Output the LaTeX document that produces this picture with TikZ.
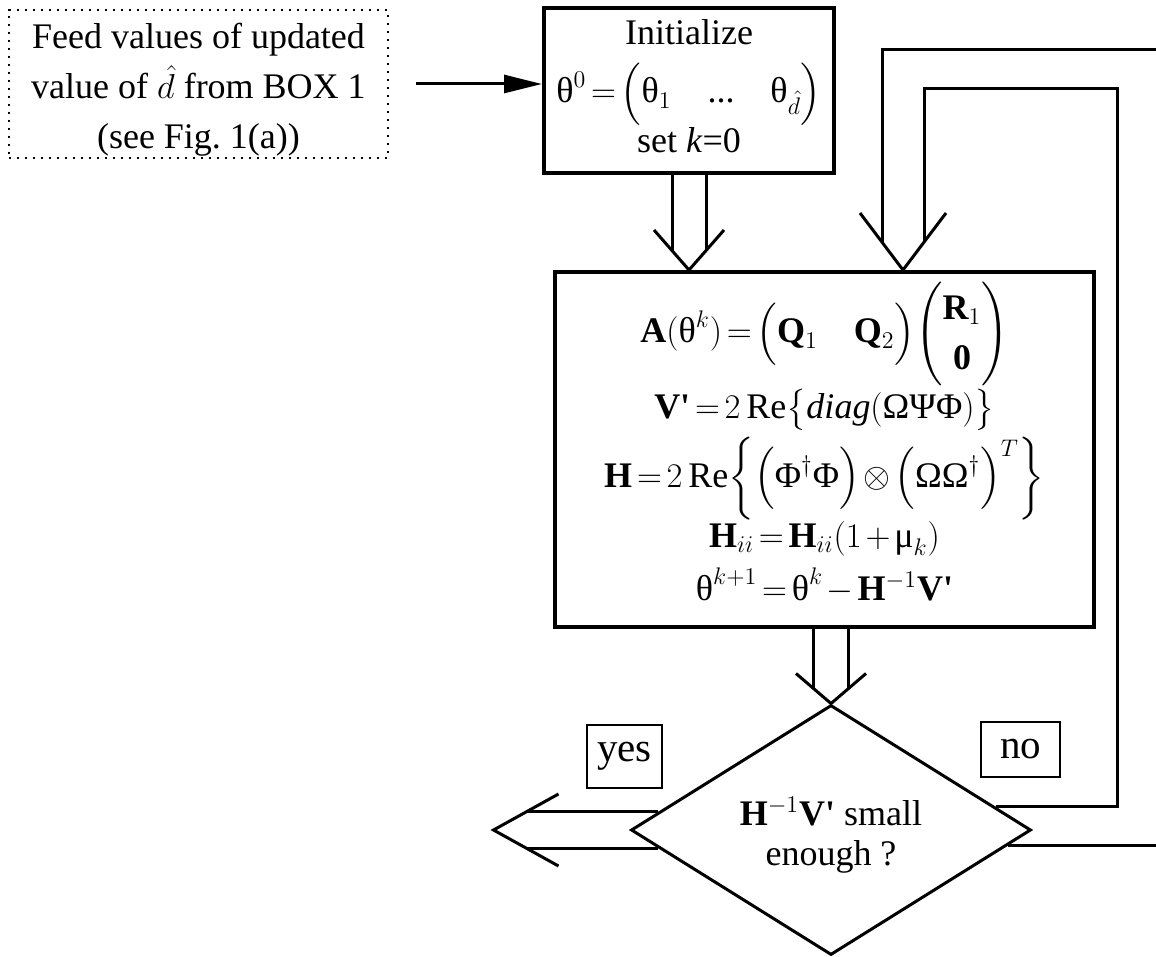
\documentclass[tikz,border=0pt]{standalone}
\usepackage{amsmath}
\usepackage{fontspec}
\setmainfont{Liberation Serif}
\usetikzlibrary{shapes.geometric,arrows.meta,calc}
\newcommand{\uth}{\text{θ}}
\newcommand{\umu}{\text{μ}}
\newcommand{\vpr}{\mathbf{V}\text{\textbf{\textquotesingle}}}
\newcommand{\tightmu}{\thickmuskip=2.5mu\relax\medmuskip=2mu\relax}

\begin{document}
\begin{tikzpicture}[x=0.5pt, y=-0.5pt,
  font=\fontsize{18}{25}\selectfont\tightmu,
  box/.style={draw, line width=2pt, align=center, inner sep=0pt},
  feedbox/.style={draw, line width=1.2pt, dash pattern=on 1.2pt off 2.8pt,
                  align=center, inner sep=0pt},
  tag/.style={draw, line width=0.9pt, inner sep=0pt, font=\fontsize{20.5}{25}\selectfont},
  decision/.style={draw, shape=diamond, line width=1.5pt, aspect=1.6,
                   inner sep=0pt, align=center},
  fat/.style={line width=1.5pt},
  eq/.style={anchor=base, inner sep=0pt}]
\useasboundingbox (0,0) rectangle (1156,957);
% input from box 1
\node[feedbox, minimum width=189.5pt, minimum height=74pt] (feed) at (198.5,84)
  {\rule{0pt}{18.5pt}Feed values of updated\\ value of $\hat{d}$ from BOX 1\\ (see Fig.~1(a))};
\node[box, minimum width=145pt, minimum height=82.5pt] (init) at (689,90.5)
  {Initialize\\[4pt] $\uth^{0}=\Bigl(\uth_1\quad\text{...}\quad\uth_{\hat{d}}\Bigr)$\\ set \textit{k}=0\rule[-4pt]{0pt}{4pt}};
\draw[fat, -{Triangle[length=19pt,width=9pt]}] ([xshift=13.5pt]feed.east) -- (init.west |- feed.east);
% update step
\node[box, minimum width=269.5pt, minimum height=177.5pt] (main) at (824.5,449.5) {};
\node[eq] (eqA) at (824.5,343) {$\mathbf{A}(\uth^{k})=\Bigl(\mathbf{Q}_1\quad\mathbf{Q}_2\Bigr)\!\begin{pmatrix}\mathbf{R}_1\\ \mathbf{0}\end{pmatrix}$};
\node[eq] (eqV) at (824.5,418) {$\vpr=2\,\mathrm{Re}\bigl\{\mathit{diag}(\text{ΩΨΦ})\bigr\}$};
\node[eq] (eqH) at (824.5,487) {$\mathbf{H}=2\,\mathrm{Re}\biggl\{\Bigl(\text{Φ}^{\dagger}\text{Φ}\Bigr)\otimes\Bigl(\text{ΩΩ}^{\dagger}\Bigr)^{T}\biggr\}$};
\node[eq] (eqHi) at (824.5,547) {$\mathbf{H}_{ii}=\mathbf{H}_{ii}(1+\umu_{k})$};
\node[eq] (eqT) at (824.5,600) {$\uth^{k+1}=\uth^{k}-\mathbf{H}^{-1}\vpr$};
% stopping test
\node[decision, minimum width=200pt, minimum height=125pt] (test) at (831,830)
  {\rule{0pt}{19pt}$\mathbf{H}^{-1}\vpr$ small\\[-5pt] enough ?};
\node[tag, minimum width=37.5pt, minimum height=31.5pt] (yes) at (624.5,756.5) {yes};
\node[tag, minimum width=39.5pt, minimum height=27.5pt] (no) at (1020.5,749.5) {no};
% init -> update
\coordinate (tipA) at (init.south |- main.north);
\draw[fat] ($(init.south)+(-17,0)$) -- ($(tipA)+(-17,-19)$);
\draw[fat] ($(init.south)+(17,0)$) -- ($(tipA)+(17,-19)$);
\draw[fat] ($(tipA)+(-35,-40)$) -- (tipA) -- ($(tipA)+(35,-40)$);
% "no": back to the update
\coordinate (tipB) at ($(main.north west)+(350,0)$);
\coordinate (outerc) at (1160,50);
\coordinate (innerc) at (1117,89);
\draw[fat] (test.-5) -| (outerc) -| ($(tipB)+(-21,-28)$);
\draw[fat] (test.8) -| (innerc) -| ($(tipB)+(21,-28)$);
\draw[fat] ($(tipB)+(-43,-57)$) -- (tipB) -- ($(tipB)+(43,-57)$);
% update -> test
\coordinate (topC) at (test.north |- main.south);
\draw[fat] ($(topC)+(-17.5,0)$) -- ($(test.north)+(-17.5,-15)$);
\draw[fat] ($(topC)+(17.5,0)$) -- ($(test.north)+(17.5,-15)$);
\draw[fat] ($(test.north)+(-35,-30)$) -- (test.north) -- ($(test.north)+(35,-30)$);
% "yes": leave
\coordinate (tipD) at ($(test.west)+(-136,0)$);
\coordinate (wD) at ($(tipD)+(32.5,0)$);
\draw[fat] (test.174) -- (test.174 -| wD);
\draw[fat] (test.186) -- (test.186 -| wD);
\draw[fat] ($(tipD)+(65,-36)$) -- (tipD) -- ($(tipD)+(65,36)$);
\end{tikzpicture}
\end{document}
